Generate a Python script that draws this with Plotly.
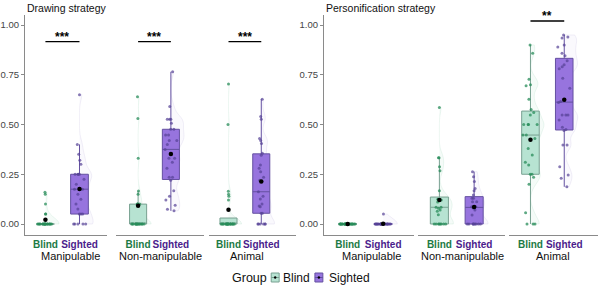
import numpy as np
import plotly.graph_objects as go

# ---------------- data ----------------
groups = ["Blind", "Sighted"]
categories = ["Manipulable", "Non-manipulable", "Animal"]
strategies = ["Drawing strategy", "Personification strategy"]

drawing_manip_blind = [0] * 19 + [0.05, 0.05, 0.10, 0.15, 0.16]
drawing_manip_sighted = [0, 0, 0, 0, 0, 0.05, 0.05, 0.05, 0.075, 0.10, 0.125, 0.15, 0.175,
                         0.175, 0.20, 0.225, 0.25, 0.25, 0.25, 0.25, 0.30, 0.32, 0.35, 0.40, 0.65]
drawing_nonmanip_blind = [0] * 15 + [0.10, 0.10, 0.10, 0.10, 0.15, 0.166, 0.33, 0.53, 0.64]
drawing_nonmanip_sighted = [0.066, 0.074, 0.094, 0.12, 0.14, 0.167, 0.22, 0.235, 0.235, 0.28, 0.31,
                            0.33, 0.33, 0.375, 0.40, 0.42, 0.42, 0.447, 0.447, 0.476, 0.476, 0.506,
                            0.526, 0.526, 0.526, 0.59, 0.765]
drawing_animal_blind = [0] * 19 + [0.12, 0.14, 0.15, 0.165, 0.50, 0.703]
drawing_animal_sighted = [0] * 6 + [0.054, 0.054, 0.087, 0.09, 0.10, 0.126, 0.14, 0.162, 0.22, 0.235,
                                    0.263, 0.28, 0.297, 0.345, 0.355, 0.405, 0.42, 0.43, 0.526, 0.54, 0.627]

person_manip_blind = [0] * 24
person_manip_sighted = [0] * 26 + [0.05]
person_nonmanip_blind = [0] * 8 + [0.047, 0.064, 0.07, 0.079, 0.084, 0.084, 0.11, 0.12, 0.125, 0.125,
                                   0.125, 0.167, 0.268, 0.288, 0.333, 0.333, 0.586]
person_nonmanip_sighted = [0] * 9 + [0.045, 0.07, 0.08, 0.087, 0.087, 0.112, 0.112, 0.129, 0.129,
                                     0.146, 0.167, 0.179, 0.213, 0.238, 0.263]
person_animal_blind = [0, 0, 0, 0.057, 0.20, 0.235, 0.25, 0.25, 0.297, 0.31, 0.347, 0.38, 0.43, 0.447,
                       0.447, 0.50, 0.50, 0.50, 0.50, 0.548, 0.56, 0.575, 0.627, 0.695, 0.70, 0.727,
                       0.858, 0.90]
person_animal_sighted = [0.187, 0.23, 0.246, 0.288, 0.397, 0.397, 0.47, 0.475, 0.486, 0.523, 0.548,
                         0.548, 0.548, 0.61, 0.615, 0.682, 0.732, 0.78, 0.79, 0.80, 0.82, 0.845, 0.858,
                         0.89, 0.90, 0.935, 0.94, 0.95]

panel_data = [
    (drawing_manip_blind, drawing_manip_sighted),
    (drawing_nonmanip_blind, drawing_nonmanip_sighted),
    (drawing_animal_blind, drawing_animal_sighted),
    (person_manip_blind, person_manip_sighted),
    (person_nonmanip_blind, person_nonmanip_sighted),
    (person_animal_blind, person_animal_sighted),
]

sig_labels = ["***", "***", "***", "", "", "**"]
sig_heights = [0.916, 0.916, 0.916, None, None, 1.02]
y_ticks = [0, 0.25, 0.5, 0.75, 1.0]

# ---------------- styles ----------------
W, H = 600, 287
FONT = "Liberation Sans, Arial, sans-serif"
box_fill = {"Blind": "rgb(183,227,210)", "Sighted": "rgb(151,116,222)"}
box_line = {"Blind": "rgb(120,160,145)", "Sighted": "rgb(100,80,160)"}
pt_color = {"Blind": "rgba(40,140,90,0.75)", "Sighted": "rgba(85,65,150,0.7)"}
vio_fill = {"Blind": "rgba(60,180,120,0.05)", "Sighted": "rgba(120,90,200,0.04)"}
vio_line = {"Blind": "rgba(60,170,120,0.16)", "Sighted": "rgba(120,100,180,0.16)"}
lab_color = {"Blind": "#1c7a45", "Sighted": "#4b1c8c"}
axis_col = "#8a8a8a"

# sub-panel pixel geometry: left, right, blind-centre, sighted-centre
sub_px = [(21, 104, 41.7, 76), (113, 201, 135, 168), (206, 294, 226, 259),
          (322, 413, 346, 381.7), (417, 504, 438.3, 473.3), (508, 598, 530, 564)]
cat_label_px = [66.7, 158, 245, 370, 461.7, 553]
y_top_px, y_bot_px, y0_px, y1_px = 15, 235, 224, 25
yscale = y0_px - y1_px
y_range = [(y0_px - y_bot_px) / yscale, (y0_px - y_top_px) / yscale]
y_domain = [1 - y_bot_px / H, 1 - y_top_px / H]


def px(p):
    return p / W


def py(p):
    return 1 - p / H


fig = go.Figure()
layout = dict(
    width=W, height=H, margin=dict(l=0, r=0, t=0, b=0),
    paper_bgcolor="white", plot_bgcolor="white", showlegend=False,
    boxmode="overlay", violinmode="overlay",
    font=dict(family=FONT, color="#222"),
)
shapes, annotations = [], []

for i, (L, R, pB, pS) in enumerate(sub_px):
    xa = "x" if i == 0 else f"x{i + 1}"
    ya = "y" if i < 3 else "y2"
    scale = pS - pB
    layout[("xaxis" if i == 0 else f"xaxis{i + 1}")] = dict(
        domain=[px(L), px(R)], anchor=ya, type="category",
        categoryorder="array", categoryarray=groups,
        range=[(L - pB) / scale, (R - pB) / scale],
        showline=True, linecolor=axis_col, linewidth=1, ticks="", showgrid=False, zeroline=False,
        tickmode="array", tickvals=groups, tickangle=0,
        ticktext=[f'<span style="color:{lab_color[g]}"><b>{g}</b></span>' for g in groups],
        tickfont=dict(size=10, family=FONT), fixedrange=True,
    )
    for gi, g in enumerate(groups):
        vals = panel_data[i][gi]
        if np.ptp(vals) > 0:
            fig.add_trace(go.Violin(
                x=[g] * len(vals), y=vals, xaxis=xa, yaxis=ya, side="positive", width=0.8,
                scalemode="width", spanmode="hard", bandwidth=0.03, points=False,
                box_visible=False, meanline_visible=False, fillcolor=vio_fill[g],
                line=dict(color=vio_line[g], width=0.6), hoverinfo="skip"))
        fig.add_trace(go.Box(
            x=[g] * len(vals), y=vals, xaxis=xa, yaxis=ya, width=0.52, whiskerwidth=0,
            fillcolor=box_fill[g], line=dict(color=box_line[g], width=1),
            boxpoints="all", jitter=0.9, pointpos=0, quartilemethod="linear",
            marker=dict(size=3, color=pt_color[g], line=dict(width=0))))
        fig.add_trace(go.Scatter(
            x=[g], y=[float(np.mean(vals))], xaxis=xa, yaxis=ya, mode="markers",
            marker=dict(color="black", size=4.5)))
    # significance bar
    if sig_labels[i]:
        h = sig_heights[i]
        shapes.append(dict(type="line", xref=xa, yref=ya, x0=groups[0], x1=groups[1],
                           y0=h, y1=h, line=dict(color="black", width=1.3)))
        annotations.append(dict(xref=xa, yref=ya, x=0.5, y=h, text=f"<b>{sig_labels[i]}</b>",
                                showarrow=False, yanchor="bottom", yshift=-4,
                                font=dict(size=12, color="black")))
    annotations.append(dict(xref="paper", yref="paper", x=px(cat_label_px[i]), y=py(256),
                            text=categories[i % 3], showarrow=False, xanchor="center",
                            yanchor="middle", font=dict(size=11, color="#111")))

for j, (xa, pL) in enumerate([("x", 21), ("x4", 322)]):
    layout["yaxis" if j == 0 else "yaxis2"] = dict(
        domain=y_domain, anchor=xa, range=y_range, tickmode="array", tickvals=y_ticks,
        tickformat=".2f", showline=True, linecolor=axis_col, linewidth=1, ticks="outside",
        ticklen=3, tickcolor=axis_col, showgrid=False, zeroline=False,
        tickfont=dict(size=9.5, color="#444"), fixedrange=True)
    annotations.append(dict(xref="paper", yref="paper", x=px(pL), y=py(8), text=strategies[j],
                            showarrow=False, xanchor="left", yanchor="middle",
                            font=dict(size=10.5, color="#111")))

# legend (drawn manually)
annotations.append(dict(xref="paper", yref="paper", x=px(228), y=py(277.5), text="Group",
                        showarrow=False, xanchor="left", yanchor="middle",
                        font=dict(size=12.5, color="#111")))
for g, kx, tx in [("Blind", 269, 278.5), ("Sighted", 313, 325)]:
    shapes.append(dict(type="rect", xref="paper", yref="paper", x0=px(kx), x1=px(kx + 8),
                       y0=py(282), y1=py(273), fillcolor=box_fill[g],
                       line=dict(color=box_line[g], width=1)))
    shapes.append(dict(type="line", xref="paper", yref="paper", x0=px(kx), x1=px(kx + 8),
                       y0=py(277.5), y1=py(277.5), line=dict(color=box_line[g], width=1)))
    shapes.append(dict(type="circle", xref="paper", yref="paper", x0=px(kx + 2.8), x1=px(kx + 5.2),
                       y0=py(278.7), y1=py(276.3), fillcolor="black", line=dict(width=0)))
    annotations.append(dict(xref="paper", yref="paper", x=px(tx), y=py(277.5), text=g,
                            showarrow=False, xanchor="left", yanchor="middle",
                            font=dict(size=12, color="#111")))

layout["shapes"] = shapes
layout["annotations"] = annotations
fig.update_layout(**layout)
fig.write_html("out.html")
